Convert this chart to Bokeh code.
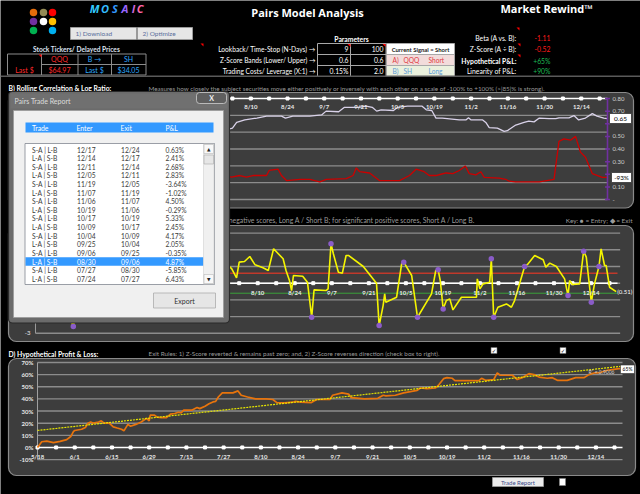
from bokeh.plotting import figure
from bokeh.models import Range1d
from bokeh.core.properties import value
from bokeh.embed import file_html
from bokeh.resources import INLINE

# ---------------- data ----------------
ticker_a, ticker_b = "QQQ", "SH"
price_a, price_b = "$64.97", "$34.05"
param_labels = ["Lookback/ Time-Stop (N-Days) \u2192", "Z-Score Bands (Lower/ Upper) \u2192",
                "Trading Costs/ Leverage (X:1) \u2192"]
param_col1 = ["9", "0.6", "0.15%"]
param_col2 = ["100", "0.6", "2.0"]
stat_labels = ["Beta (A vs. B):", "Z-Score (A \u00f7 B):", "Hypothetical P&L:", "Linearity of P&L:"]
stat_values = ["-1.11", "-0.52", "+65%", "+90%"]
stat_colors = ["#ff1a1a", "#ff1a1a", "#1db954", "#1db954"]

date_labels = ["5/18", "6/1", "6/15", "6/29", "7/13", "7/27", "8/10", "8/24", "9/7", "9/21",
               "10/5", "10/19", "11/2", "11/16", "11/30", "12/14"]
date_days = [0, 14, 28, 42, 56, 70, 84, 98, 112, 126, 140, 154, 168, 182, 196, 210]
week_days = [0, 7, 14, 21, 28, 35, 42, 49, 56, 63, 70, 77, 84, 91, 98, 105, 112, 119, 126, 133,
             140, 147, 154, 161, 168, 175, 182, 189, 196, 203, 210, 217]

# B) rolling correlation and log ratio
corr_day = [0, 5, 10, 16, 22, 28, 34, 40, 46, 52, 58, 64, 70, 74, 77, 78.6, 81.7, 86.3, 90, 95.7,
            97.2, 100, 106.5, 111, 112.7, 117.5, 119.7, 125, 128, 130.3, 132, 133.7, 138.4, 140, 143.7,
            149.2, 150.9, 153, 154.6, 157, 163.5, 166, 167, 168, 172.4, 173.6, 174.9, 178, 180.6, 181.8,
            185, 188.2, 190, 192, 194, 197.7, 200.3, 201.5, 205.3, 207.2, 209, 211.6, 214.2, 216, 218.6, 220]
corr_val = [0.58, 0.6, 0.57, 0.62, 0.64, 0.6, 0.63, 0.66, 0.62, 0.6, 0.57, 0.6, 0.58, 0.55, 0.565, 0.61,
            0.63, 0.645, 0.66, 0.66, 0.645, 0.66, 0.66, 0.67, 0.70, 0.695, 0.73, 0.73, 0.74, 0.73, 0.70,
            0.71, 0.705, 0.73, 0.74, 0.74, 0.71, 0.705, 0.645, 0.645, 0.63, 0.63, 0.647, 0.63, 0.63, 0.61,
            0.57, 0.565, 0.54, 0.545, 0.59, 0.61, 0.62, 0.615, 0.645, 0.64, 0.64, 0.647, 0.647, 0.665,
            0.63, 0.645, 0.68, 0.66, 0.645, 0.64]
ratio_day = [0, 6, 12, 18, 24, 30, 36, 42, 48, 54, 60, 66, 72, 76.6, 79.8, 82.3, 84.8, 90, 91, 94.4,
             95.7, 97.6, 102.7, 106.5, 110.3, 112.8, 120.4, 123, 124.2, 125.5, 129.3, 133, 140.7, 144.5,
             147, 150.1, 152, 154.6, 156.5, 158.5, 161, 163.5, 165.8, 167.3, 169.8, 171.7, 173, 178.7,
             181.2, 182.5, 185, 194, 199.6, 201.5, 203.4, 205.9, 207.8, 209.7, 211.6, 214.2, 218, 220]
ratio_val = [0.22, 0.25, 0.2, 0.18, 0.23, 0.27, 0.21, 0.17, 0.2, 0.24, 0.19, 0.16, 0.2, 0.177, 0.19,
             0.177, 0.19, 0.19, 0.23, 0.24, 0.19, 0.15, 0.16, 0.16, 0.14, 0.16, 0.165, 0.19, 0.25, 0.22,
             0.21, 0.15, 0.15, 0.19, 0.24, 0.22, 0.19, 0.19, 0.2, 0.21, 0.205, 0.23, 0.265, 0.205, 0.195,
             0.22, 0.175, 0.17, 0.16, 0.145, 0.14, 0.14, 0.16, 0.46, 0.48, 0.47, 0.5, 0.375, 0.335, 0.205,
             0.175, 0.175]
b_grid = [0.0, 0.1333, 0.2667, 0.4, 0.5333, 0.6667]
b_right_ticks = [0.8, 0.7, 0.5, 0.4, 0.3, 0.1, 0.0]
b_right_labels = ["0.80", "0.70", "0.50", "0.40", "0.30", "0.10", "-"]

# C) z-score
z_day = [0, 2, 4, 6, 8, 10, 12, 14.3, 16, 18, 21, 24, 26, 29, 31, 34, 37, 39, 42, 45,
         47, 50, 52, 55, 58, 61, 63, 66, 68, 70, 72, 74.2, 76, 77, 79, 81, 83, 86, 88, 90,
         93.6, 94.7, 96, 96.8, 97.5, 101, 102.8, 104.4, 105.3, 109.8, 110.6, 111.7, 112.6, 114.5, 116,
         117.4, 118.3, 123.9, 128.9, 129.9, 131.4, 132, 132.4, 136.5, 138.4, 139.2, 142.2, 144.4, 149.7,
         151.3, 152.2, 153, 154.1, 155.3, 156.6, 157.8, 161, 166.7, 167, 168, 169.2, 171.7, 172.3, 173.2,
         174.8, 178, 179.9, 181.1, 184.9, 186.2, 188.7, 191.9, 192.9, 194.4, 196.9, 200, 201.3, 201.9,
         202.9, 205.7, 207.2, 208.2, 210.1, 211.3, 213, 213.8, 215.1, 215.7, 217, 219.5]
z_val = [0.3, 1.1, 0.6, -0.5, -1.2, -0.8, -1.6, -2.6, -1.0, 0.2, 0.9, 1.8, 1.2, 0.4, -0.3, 0.5, 1.4, 2.1,
         1.0, 0.2, -0.9, -1.8, -1.1, -0.2, 0.7, 1.5, 2.2, 1.3, 0.4, 0.8, 1.2, 0.86, 0.32, 1.26, 1.3, 1.6,
         1.1, 0.92, 0.76, 2.06, 1.46, 0.76, 0.16, -0.44, 0.46, 0.42, 0.06, -2.04, -0.4, -0.44, -0.34,
         2.36, 1.76, 0.66, 0.6, 1.66, 1.66, 1.0, 0.0, -2.54, -1.34, -0.64, -1.14, -0.84, 1.16, 1.26, 0.46,
         -2.04, -0.64, 0.76, 0.8, 0.16, -1.54, -1.04, -0.94, -1.6, -0.84, -0.84, 0.26, -0.34, -0.04, 0.06,
         1.46, -2.04, -1.44, -1.24, -1.44, -1.04, 1.0, 1.16, 1.66, 1.4, 0.96, 1.2, 1.0, 0.26, -0.74, 0.16,
         -0.08, -0.04, 1.92, 1.56, -1.14, -0.04, 1.0, 2.06, 1.06, 1.06, -0.24, -0.5]
z_mark_day = [14.3, 104.4, 111.7, 129.9, 139.2, 144.4, 152.2, 154.1, 172.3, 173.2, 184.9, 201.3,
              207.2, 210.1, 213]
z_mark_val = [-2.6, -2.04, 2.36, -2.54, 1.26, -2.04, 0.8, -1.54, 1.46, -2.04, 1.0, -0.74, 1.92,
              -1.14, 1.0]
z_grid = [-3, -2, -1, 0, 1, 2, 3]
z_upper, z_lower = 0.6, -0.6

# D) hypothetical P&L (%)
pnl_day = [0, 1.6, 3.5, 6, 8.5, 11, 12.5, 13.5, 14, 16.6, 18, 19, 20, 21, 23, 24, 25, 27, 28.5, 30,
           31.6, 32.5, 34, 35, 37, 39, 41, 42, 42.4, 44, 45, 46.6, 48.5, 50, 51.6, 53, 54, 55, 58, 60,
           61, 63, 64.5, 66, 67, 68, 69.5, 73.5, 75.4, 76.6, 79, 82, 86, 88.5, 90, 93, 96, 97, 99, 103,
           105, 110, 111, 114.5, 117, 118, 123, 128, 130, 131, 134.6, 137.7, 142.8, 144, 146.5, 149.7,
           151, 152.7, 154, 156, 157, 161.6, 166, 167, 168.5, 171.6, 172.9, 174, 178.6, 180.4,
           182.3, 184.8, 186.7, 188.6, 191.7, 193.6, 195.5, 199.2, 202.4, 205.5, 207.4, 209.3, 211,
           214.3, 216.8, 218.7, 220]
pnl_pct = [0, 4.7, 5.2, 4, 5, 6.5, 9, 13, 14, 15, 16.5, 20, 21, 20, 21, 22, 20, 20, 17, 16,
           15, 13.7, 19, 17.5, 19, 21, 24, 22, 26.6, 26.6, 25, 24.6, 24.6, 27.4, 28, 29, 28.5, 30.7, 30.7, 33,
           32, 34, 36, 37.5, 38, 41.6, 45, 45, 46.6, 43, 41.6, 40, 40, 39.5, 37, 36.7, 37.3, 38, 37.3, 37,
           39.5, 39.5, 43, 45, 44, 41, 40, 40.5, 43, 42.5, 43, 45, 47, 49, 48.5, 49, 51.8, 56.7, 57.5, 57,
           55, 55, 55, 57, 55.3, 56, 61.4, 59.5, 59.5, 56, 57.5, 60.8, 60, 58, 57, 57.5, 55.3, 55.3,
           57.5, 57.5, 60, 61.4, 61.4, 63.6, 64.4, 65, 65]
trend_day = [0, 220]
trend_pct = [14, 67]
d_ticks = [70, 60, 50, 40, 30, 20, 10, 0, -10]
d_tick_labels = ["70%", "60%", "50%", "40%", "30%", "20%", "10%", "0%", "-10%"]

# Pairs trade report
trade_type = ["S-A | L-B", "L-A | S-B"] * 8
trade_enter = ["12/17", "12/14", "12/11", "12/05", "11/19", "11/07", "11/06", "10/19", "10/17", "10/09",
               "10/04", "09/25", "09/06", "08/30", "07/27", "07/24"]
trade_exit = ["12/24", "12/17", "12/14", "12/11", "12/05", "11/19", "11/07", "11/06", "10/19", "10/17",
              "10/09", "10/04", "09/25", "09/06", "08/30", "07/27"]
trade_pnl = ["0.63%", "2.41%", "2.68%", "2.83%", "-3.64%", "-1.02%", "4.50%", "-0.29%", "5.33%", "2.45%",
             "4.17%", "2.05%", "-0.35%", "4.87%", "-5.85%", "6.43%"]
selected_row = 13

# ---------------- figure ----------------
p = figure(width=640, height=494, x_range=Range1d(0, 640), y_range=Range1d(0, 494),
           output_backend="svg", toolbar_location=None, min_border=0,
           x_axis_location=None, y_axis_location=None)
p.grid.visible = False
p.outline_line_color = None
p.background_fill_color = "#000000"
p.border_fill_color = "#000000"


def Y(py):
    return 494 - py


def T(x, py, s, size=6.5, color="#ffffff", align="left", bold=False, italic=False, font="Lato"):
    style = "normal"
    if bold and italic:
        style = "bold italic"
    elif bold:
        style = "bold"
    elif italic:
        style = "italic"
    p.text(x=[x], y=[Y(py)], text=[s], text_font=value(font), text_font_size=f"{size}px",
           text_color=color, text_align=align, text_baseline="middle", text_font_style=style)


def R(x0, py0, x1, py1, fill, line=None, lw=1.0, radius=0):
    kw = {}
    if radius:
        kw["border_radius"] = radius
    p.quad(left=[x0], right=[x1], top=[Y(py0)], bottom=[Y(py1)], fill_color=fill,
           line_color=line, line_width=lw, **kw)


def HL(x0, x1, py, color, lw=1.0):
    p.segment(x0=[x0], x1=[x1], y0=[Y(py)], y1=[Y(py)], line_color=color, line_width=lw)


def VL(x, py0, py1, color, lw=1.0):
    p.segment(x0=[x], x1=[x], y0=[Y(py0)], y1=[Y(py1)], line_color=color, line_width=lw)


def corner(x, py):
    p.patch(x=[x - 3, x, x], y=[Y(py), Y(py), Y(py + 3)], fill_color="#ff0000", line_color=None)


# ---------------- header ----------------
dot_x = [33, 43, 52, 33, 43, 52, 33, 52]
dot_y = [12, 12, 12, 21, 21, 21, 30, 30]
dot_c = ["#e46c0a", "#948a54", "#ff0000", "#7030a0", "#ffffff", "#ffc000", "#00b050", "#00b0f0"]
p.scatter(x=dot_x, y=[Y(v) for v in dot_y], size=7.5, color=dot_c, line_color=None)

for ch, x, c in zip("MOSAIC", [94, 104.5, 114.5, 124.5, 133, 139.5],
                    ["#33ccff", "#33bbff", "#3399ff", "#9966ff", "#cc66dd", "#ff66aa"]):
    T(x, 7.5, ch, size=11, color=c, align="center", bold=True, italic=True, font="Open Sans")

R(70, 27, 136, 39, "#e6e6e6", "#9a9a9a")
R(137, 27, 192, 39, "#e6e6e6", "#9a9a9a")
T(75, 33, "1) Download", size=6.5, color="#5a6f9c")
T(142, 33, "2) Optimize", size=6.5, color="#5a6f9c")

T(307, 11.5, "Pairs Model Analysis", size=11, bold=True, font="Open Sans", align="center")
T(500, 7.5, "Market Rewind\u2122", size=11, bold=True, font="Open Sans")

T(76, 48.5, "Stock Tickers/ Delayed Prices", size=6.6, color="#dde2f0", bold=True, align="center")
R(7, 53.5, 145.5, 74.5, None, "#8c8c8c")
for x in [41, 77.5, 111]:
    VL(x, 53.5, 74.5, "#8c8c8c")
HL(41, 145.5, 64, "#8c8c8c")
corner(41, 54)
T(59, 58.8, ticker_a, size=7, color="#ff2a2a", align="center")
T(94, 58.8, "B \u2192", size=7, color="#2ea8ff", align="center")
T(128, 58.8, ticker_b, size=7, color="#2ea8ff", align="center")
T(24, 69.3, "Last $", size=7, color="#ff2a2a", align="center")
T(59, 69.3, price_a, size=7, color="#ff2a2a", align="center")
T(94, 69.3, "Last $", size=7, color="#2ea8ff", align="center")
T(128, 69.3, price_b, size=7, color="#2ea8ff", align="center")

# parameters
T(351, 38, "Parameters", size=6.8, bold=True, align="center")
corner(203, 43)
row_y = [48.5, 59.5, 70.5]
for lab, v1, v2, y in zip(param_labels, param_col1, param_col2, row_y):
    T(315, y, lab, size=6.6, align="right")
    T(348, y, v1, size=6.8, align="right")
    T(383, y, v2, size=6.8, align="right")
R(317, 43, 385.5, 76, None, "#a8a8a8")
VL(350, 43, 76, "#a8a8a8")
HL(317, 385.5, 54, "#a8a8a8")
HL(317, 385.5, 65, "#a8a8a8")
corner(350, 43.5)
corner(385, 43.5)
R(386, 43, 454, 54, "#ffffff", "#a8a8a8")
R(386, 54, 454, 65, "#f2dcdb", "#a8a8a8")
R(386, 65, 454, 76, "#ebf1de", "#a8a8a8")
T(420, 48.6, "Current Signal = Short", size=5.9, color="#1a1a1a", bold=True, align="center")
T(392, 59.6, "A)", size=6.6, color="#e0393e")
T(403, 59.6, ticker_a, size=6.6, color="#e0393e")
T(428, 59.6, "Short", size=6.6, color="#e0393e")
T(392, 70.6, "B)", size=6.6, color="#5b9bd5")
T(403, 70.6, ticker_b, size=6.6, color="#5b9bd5")
T(428, 70.6, "Long", size=6.6, color="#5b9bd5")

# stats
stat_y = [37.7, 48.5, 60, 70.7]
for lab, val, col, y in zip(stat_labels, stat_values, stat_colors, stat_y):
    T(516, y, lab, size=6.8, align="right", bold=(lab == "Hypothetical P&L:"))
    T(550, y, val, size=6.8, color=col, align="right")
corner(519, 27)
corner(520, 43)
corner(520, 54)

HL(0, 640, 75.8, "#5a5a5a", 1.6)

# section titles
T(8, 87.5, "B) Rolling Correlation & Log Ratio:", size=6.8, bold=True)
T(148, 87.5, "Measures how closely the subject securities move either positively or inversely with each "
             "other on a scale of -100% to +100% (>|85|% is strong).", size=6.3, color="#9a9a9a")
T(475, 219.5, "For significant negative scores, Long A / Short B; for significant positive scores, "
              "Short A / Long B.", size=6.9, color="#9a9a9a", align="right")
T(632, 219.5, "Key: \u25cf = Entry; \u25c6 = Exit", size=6.5, color="#9a9a9a", align="right")
T(8, 353, "D) Hypothetical Profit & Loss:", size=6.8, bold=True)
T(148, 353, "Exit Rules:  1) Z-Score reverted & remains past zero; and, 2) Z-Score reverses direction "
            "(check box to right).", size=6.3, color="#9a9a9a")

# panels
PANEL = "#3d3d3d"
BORDER = "#8a8a8a"
R(8, 92, 633, 207.5, PANEL, BORDER, 1.2, radius=8)
R(8, 225, 633, 341, PANEL, BORDER, 1.2, radius=8)
R(8, 358, 635, 475, PANEL, BORDER, 1.2, radius=8)

# ---------------- B chart ----------------
bx = p.subplot(x_source=Range1d(0, 220), y_source=Range1d(0, 0.8),
               x_target=Range1d(30, 607), y_target=Range1d(Y(199), Y(98)))
bx.segment(x0=[0] * len(b_grid), x1=[220] * len(b_grid), y0=b_grid, y1=b_grid,
           line_color="#8c8c8c", line_width=1.4)
bx.line(x=ratio_day, y=ratio_val, line_color="#cc0000", line_width=1.3)
bx.line(x=corr_day, y=corr_val, line_color="#d9d2e9", line_width=1.3)
bx.segment(x0=[0], x1=[220], y0=[0.8], y1=[0.8], line_color="#ffffff", line_width=1.5)
bx.scatter(x=week_days, y=[0.8] * len(week_days), marker="square", size=3, color="#ffffff")
vis = [i for i, d in enumerate(date_days) if d >= 84]
bx.text(x=[date_days[i] for i in vis], y=[0.8] * len(vis), text=[date_labels[i] for i in vis],
        y_offset=8, text_align="center", text_baseline="middle", text_font=value("Lato"),
        text_font_size="6px", text_font_style="bold", text_color="#e8e8e8")
bx.segment(x0=[220], x1=[220], y0=[0], y1=[0.8], line_color="#7030a0", line_width=1.6)
bx.scatter(x=[220] * 9, y=[0.8, 0.7, 0.6, 0.5, 0.4, 0.3, 0.2, 0.1, 0.0], marker="dash", size=5,
           color="#7030a0", line_width=1.5)
bx.text(x=[220] * len(b_right_ticks), y=b_right_ticks, text=b_right_labels, x_offset=5,
        text_align="left", text_baseline="middle", text_font=value("Lato"), text_font_size="6px",
        text_color="#cfcfcf")

R(609, 113, 631, 123, "#ffffff", "#333333", 0.8)
T(620, 118, "0.65", size=6.5, color="#000000", align="center")
R(611, 172, 631, 182, "#ffffff", "#333333", 0.8)
T(621, 177, "-93%", size=6.3, color="#000000", align="center")

# ---------------- C chart ----------------
cx = p.subplot(x_source=Range1d(0, 220), y_source=Range1d(-3, 3),
               x_target=Range1d(35, 617), y_target=Range1d(Y(332.8), Y(232.6)))
cx.segment(x0=[0] * len(z_grid), x1=[221] * len(z_grid), y0=z_grid, y1=z_grid,
           line_color="#8c8c8c", line_width=1.4)
cx.segment(x0=[0], x1=[0], y0=[-3], y1=[3], line_color="#9a9a9a", line_width=1)
cx.segment(x0=[0], x1=[220], y0=[z_upper], y1=[z_upper], line_color="#c0392b", line_width=1.6)
cx.segment(x0=[0], x1=[220], y0=[z_lower], y1=[z_lower], line_color="#3aa03a", line_width=1)
cx.segment(x0=[0], x1=[220], y0=[0], y1=[0], line_color="#ffffff", line_width=1.5)
cx.scatter(x=week_days, y=[0] * len(week_days), marker="square", size=3, color="#ffffff")
cx.line(x=z_day, y=z_val, line_color="#f5f500", line_width=1.6)
cx.scatter(x=z_mark_day, y=z_mark_val, size=5.5, color="#8a5cc8", line_color=None)
cx.text(x=[date_days[i] for i in vis], y=[0] * len(vis), text=[date_labels[i] for i in vis],
        y_offset=9, text_align="center", text_baseline="middle", text_font=value("Lato"),
        text_font_size="6px", text_font_style="bold", text_color="#e8e8e8")
cx.text(x=[0], y=[-3], text=["-3"], x_offset=-5, text_align="right", text_baseline="middle",
        text_font=value("Lato"), text_font_size="6px", text_color="#e8e8e8")
cx.text(x=[z_day[-1]], y=[z_val[-1]], text=["(0.51)"], x_offset=1, text_align="left",
        text_baseline="middle", text_font=value("Lato"), text_font_size="6px", text_color="#ffffff")

# ---------------- D chart ----------------
dx = p.subplot(x_source=Range1d(0, 220), y_source=Range1d(-10, 70),
               x_target=Range1d(37, 622), y_target=Range1d(Y(459.1), Y(362)))
dgrid = [v for v in d_ticks if v != 0]
dx.segment(x0=[0] * len(dgrid), x1=[220] * len(dgrid), y0=dgrid, y1=dgrid,
           line_color="#8c8c8c", line_width=1.4)
dx.segment(x0=[0], x1=[0], y0=[-10], y1=[70], line_color="#a0a0a0", line_width=1)
dx.text(x=[0] * len(d_ticks), y=d_ticks, text=d_tick_labels, x_offset=-4, text_align="right",
        text_baseline="middle", text_font=value("Lato"), text_font_size="6px",
        text_font_style="bold", text_color="#e8e8e8")
dx.segment(x0=[0], x1=[220], y0=[0], y1=[0], line_color="#ffffff", line_width=1.6)
dx.scatter(x=week_days, y=[0] * len(week_days), marker="square", size=3, color="#ffffff")
dx.text(x=date_days, y=[0] * len(date_days), text=date_labels, y_offset=9, text_align="center",
        text_baseline="middle", text_font=value("Lato"), text_font_size="6px",
        text_font_style="bold", text_color="#e8e8e8")
dx.line(x=pnl_day, y=pnl_pct, line_color="#e8740c", line_width=1.7)
dx.line(x=trend_day, y=trend_pct, line_color="#e6e600", line_width=1.2, line_dash="2 1")
T(614, 371.5, "R\u00b2 = 0.9006", size=5, color="#cfcfcf", align="right")
R(620, 364.5, 634, 373, "#ffffff", "#333333", 0.6)
T(627, 368.7, "65%", size=5, color="#000000", align="center")

# check boxes / buttons
for x in [493.5, 562.5]:
    R(x - 3, 347, x + 3, 353, "#ffffff", "#666666", 0.6)
    T(x, 350, "\u2713", size=5.5, color="#000000", align="center", font="DejaVu Sans")
R(492, 477, 543, 486, "#ececec", "#9a9a9a", 0.8)
T(517.5, 481.5, "Trade Report", size=6, color="#3b4a8a", align="center")
R(559, 478, 565, 485, "#ffffff", "#888888", 0.6)

# ---------------- dialog: Pairs Trade Report ----------------
R(8, 91, 229, 322.5, "#6b6b6b", "#2a2a2a", 1.2, radius=4)
R(10, 93, 227, 108, "#707070", None)
T(14, 100.5, "Pairs Trade Report", size=7, color="#dcdcdc")
R(196, 92, 226, 103, "#5f5f5f", "#cfcfcf", 0.8, radius=3)
T(211, 97.5, "X", size=7, color="#f2f2f2", bold=True, align="center")
R(13, 110, 223, 317, "#f0f0f0", "#9a9a9a", 0.8)
R(25, 122, 213, 132, "#3399ff", None)
for lab, x in zip(["Trade", "Enter", "Exit", "P&L"], [31.5, 76, 120, 165]):
    T(x, 127, lab, size=6.8, color="#ffffff")
R(24.5, 143, 214, 284, "#ffffff", "#828790", 0.8)
row0, drow = 149, 8.62
ys = row0 + selected_row * drow
R(25, ys - 4.3, 203, ys + 4.3, "#3399ff", None)
for i in range(len(trade_type)):
    y = row0 + i * drow
    col = "#ffffff" if i == selected_row else "#3a3a3a"
    T(31.5, y, trade_type[i], size=6.7, color=col)
    T(76.5, y, trade_enter[i], size=6.7, color=col)
    T(120.5, y, trade_exit[i], size=6.7, color=col)
    T(165, y, trade_pnl[i], size=6.7, color=col)
R(203, 143.5, 213.5, 283.5, "#f0f0f0", "#d0d0d0", 0.6)
R(203.5, 144, 213, 153, "#f8f8f8", "#b8b8b8", 0.6)
T(208.3, 148.5, "\u25b2", size=4.5, color="#222222", align="center", font="DejaVu Sans")
R(203.5, 154.5, 213, 163.5, "#e6e6e6", "#a8a8a8", 0.6)
R(203.5, 274, 213, 283, "#f8f8f8", "#b8b8b8", 0.6)
T(208.3, 278.5, "\u25bc", size=4.5, color="#222222", align="center", font="DejaVu Sans")
R(153, 292.5, 215, 307.5, "#e6e6e6", "#acacac", 0.8)
T(184, 300, "Export", size=7, color="#303030", align="center")

html = file_html(p, INLINE)
html = html.replace("<body>", '<body style="background:#000000">', 1)
open("out.html", "w").write(html)
